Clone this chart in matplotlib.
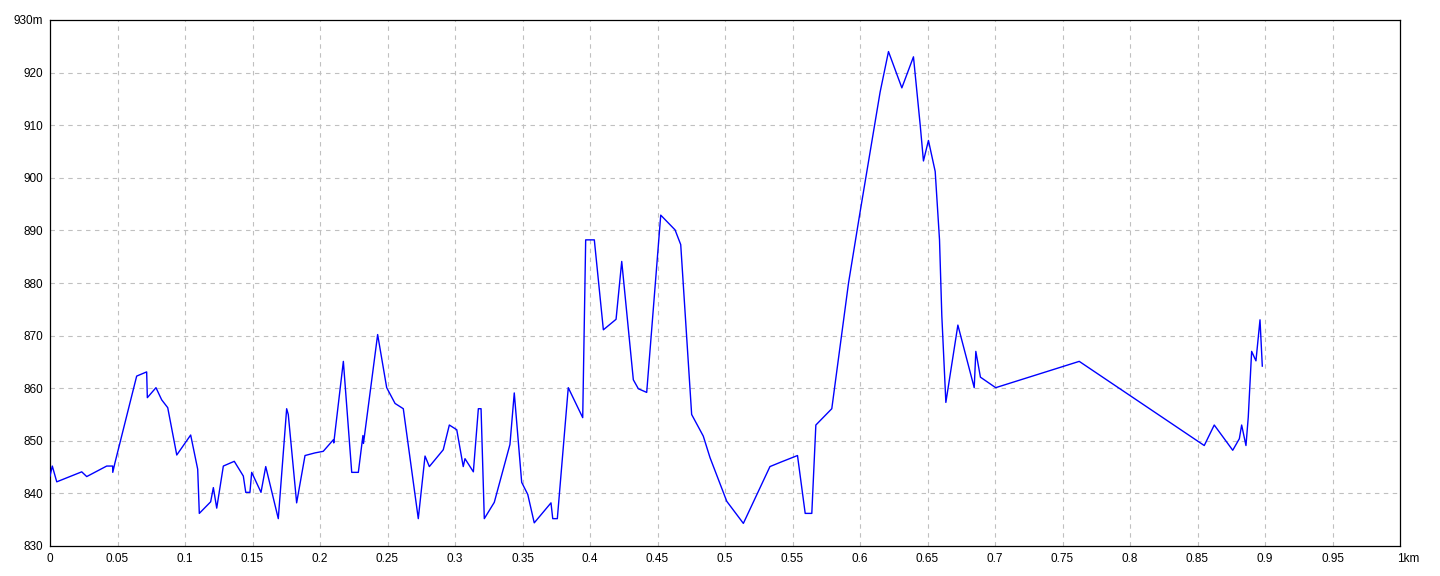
import matplotlib
matplotlib.use("Agg")
import matplotlib.pyplot as plt
import matplotlib.transforms as mtransforms

# distance (km) and elevation (m)
distance_km = [
    0.0, 0.0017, 0.005, 0.0235, 0.0272, 0.042, 0.0464, 0.0465, 0.0481,
    0.0642, 0.0716, 0.0721, 0.0785, 0.0827, 0.0872, 0.0939, 0.1042, 0.1094,
    0.1106, 0.119, 0.121, 0.1235, 0.1284, 0.1365, 0.1432, 0.145, 0.1481,
    0.1494, 0.1563, 0.1598, 0.1691, 0.1753, 0.1765, 0.1827, 0.1889, 0.1963,
    0.2024, 0.2099, 0.2102, 0.2173, 0.2235, 0.2284, 0.2318, 0.2322, 0.2427,
    0.2494, 0.2556, 0.2617, 0.2728, 0.2778, 0.281, 0.2913, 0.2958, 0.3013,
    0.3061, 0.3074, 0.3136, 0.3173, 0.3193, 0.3217, 0.3291, 0.3407, 0.3439,
    0.3494, 0.3539, 0.3587, 0.3711, 0.3724, 0.3758, 0.3839, 0.3946, 0.3968,
    0.4032, 0.4099, 0.4193, 0.4235, 0.4321, 0.4358, 0.442, 0.4524, 0.463,
    0.4672, 0.4753, 0.4839, 0.4889, 0.5013, 0.5136, 0.5333, 0.5409, 0.5537,
    0.5594, 0.5643, 0.5673, 0.5791, 0.5915, 0.6, 0.6149, 0.6211, 0.631,
    0.6396, 0.6446, 0.647, 0.6507, 0.6557, 0.6589, 0.6606, 0.6636, 0.6725,
    0.6846, 0.6858, 0.6892, 0.7005, 0.7624, 0.855, 0.8624, 0.8761, 0.881,
    0.8827, 0.8859, 0.8876, 0.8901, 0.8933, 0.8963, 0.898,
]
elevation_m = [
    843.3, 845.2, 842.2, 844.1, 843.2, 845.2, 845.2, 844.0, 845.8,
    862.3, 863.1, 858.2, 860.1, 857.8, 856.3, 847.3, 851.1, 844.6,
    836.2, 838.4, 841.1, 837.2, 845.2, 846.1, 843.3, 840.2, 840.2,
    844.0, 840.2, 845.1, 835.2, 856.1, 855.0, 838.2, 847.2, 847.7,
    848.0, 850.2, 849.6, 865.1, 844.0, 844.0, 851.0, 849.5, 870.2,
    860.1, 857.1, 856.1, 835.2, 847.1, 845.1, 848.3, 853.0, 852.1,
    845.1, 846.6, 844.1, 856.1, 856.1, 835.2, 838.3, 849.3, 859.1,
    842.1, 839.8, 834.4, 838.2, 835.2, 835.2, 860.1, 854.4, 888.2,
    888.2, 871.1, 873.1, 884.1, 861.6, 859.9, 859.2, 892.9, 890.1,
    887.3, 855.0, 850.9, 846.8, 838.5, 834.3, 845.1, 845.9, 847.2,
    836.2, 836.2, 853.0, 856.1, 880.0, 893.4, 916.3, 924.0, 917.1,
    923.0, 910.0, 903.2, 907.1, 901.2, 888.2, 873.8, 857.3, 872.0,
    860.1, 867.0, 862.1, 860.1, 865.1, 849.1, 853.0, 848.2, 850.4,
    853.0, 849.1, 854.5, 867.0, 865.2, 873.0, 864.2,
]

x_ticks = [0, 0.05, 0.1, 0.15, 0.2, 0.25, 0.3, 0.35, 0.4, 0.45, 0.5,
           0.55, 0.6, 0.65, 0.7, 0.75, 0.8, 0.85, 0.9, 0.95, 1.0]
x_tick_labels = ["0", "0.05", "0.1", "0.15", "0.2", "0.25", "0.3", "0.35",
                 "0.4", "0.45", "0.5", "0.55", "0.6", "0.65", "0.7", "0.75",
                 "0.8", "0.85", "0.9", "0.95", "1km"]
y_ticks = [830, 840, 850, 860, 870, 880, 890, 900, 910, 920, 930]
y_tick_labels = ["830", "840", "850", "860", "870", "880", "890", "900",
                 "910", "920", "930m"]

plt.rcParams['font.family'] = ['Liberation Sans', 'DejaVu Sans']

W, H = 1440, 576
fig = plt.figure(figsize=(W / 100, H / 100), dpi=100)
ax = fig.add_axes([50 / W, (H - 546) / H, 1350 / W, 526 / H])

ax.plot(distance_km, elevation_m, color='#0000ff', lw=1.0, zorder=3)

ax.set_xlim(0, 1.0)
ax.set_ylim(830, 930)
ax.set_xticks(x_ticks)
ax.set_xticklabels(x_tick_labels)
ax.set_yticks(y_ticks)
ax.set_yticklabels(y_tick_labels)
ax.tick_params(axis='both', length=0, labelsize=8.5, colors='black')
ax.tick_params(axis='x', pad=5)
ax.tick_params(axis='y', pad=5)

# shift the last x label ("1km") so the "1" sits on the tick
last = ax.get_xticklabels()[-1]
last.set_horizontalalignment('left')
last.set_transform(last.get_transform() +
                   mtransforms.ScaledTranslation(-3 / 100, 0, fig.dpi_scale_trans))

ax.grid(True, color='#c0c0c0', linestyle=(0, (4, 4)), linewidth=0.8)
# hide grid lines on the axes borders
for gl in ax.get_xgridlines()[:1] + ax.get_xgridlines()[-1:]:
    gl.set_visible(False)
for gl in ax.get_ygridlines()[:1] + ax.get_ygridlines()[-1:]:
    gl.set_visible(False)

for s in ax.spines.values():
    s.set_color('black')
    s.set_linewidth(0.9)

fig.savefig('out.png', dpi=100, facecolor='white')
